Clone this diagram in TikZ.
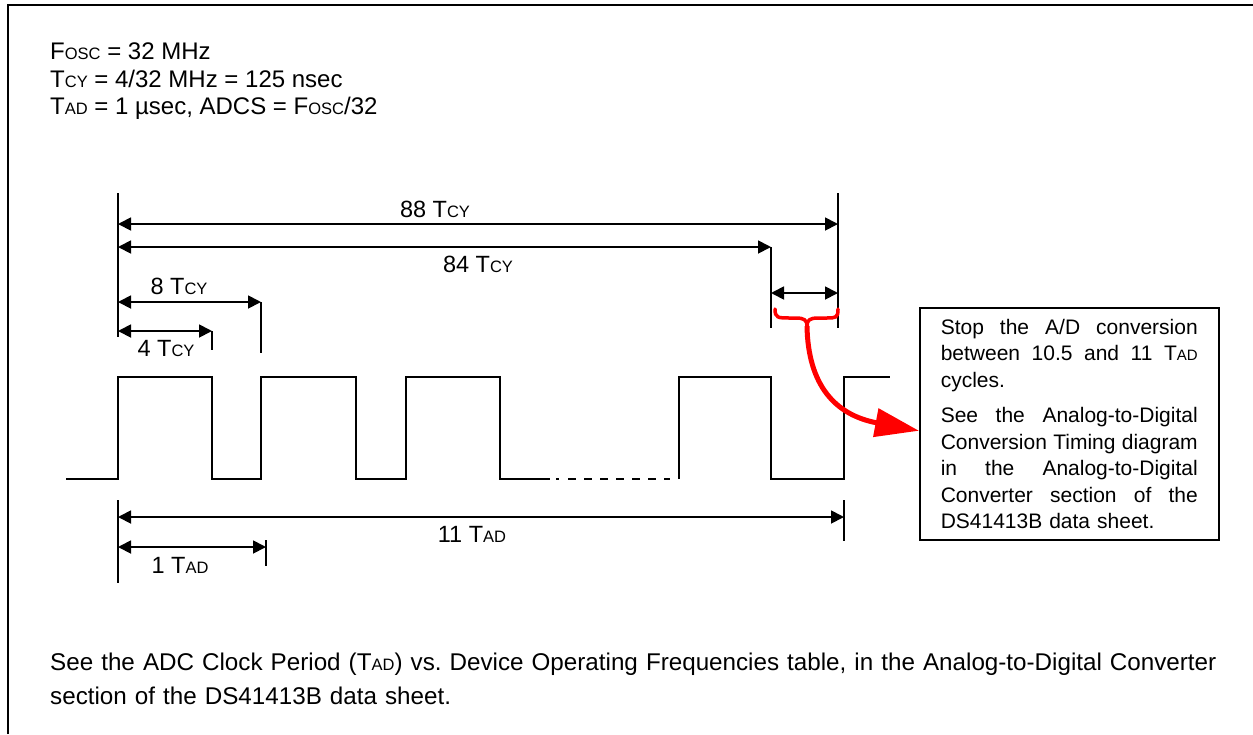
\documentclass[tikz,border=0pt]{standalone}
\usepackage{fontspec}
\setmainfont{Liberation Sans}
\usetikzlibrary{arrows.meta}
\frenchspacing
\newcommand\smc[1]{{\fontsize{16.5pt}{16.5pt}\selectfont #1}}
\newcommand\smb[1]{{\fontsize{15pt}{15pt}\selectfont #1}}
\newcommand\jl[1]{\makebox[257pt][l]{#1}}
\begin{document}
\begin{tikzpicture}[x=1pt,y=-1pt,
  dim/.style={line width=1.8pt,{Triangle[length=13pt,width=13pt]}-{Triangle[length=13pt,width=13pt]}},
  ext/.style={line width=1.8pt},
  wave/.style={line width=1.8pt},
  lbl/.style={font=\fontsize{23.5pt}{27pt}\selectfont,inner sep=0pt,anchor=base},
  txt/.style={font=\fontsize{24pt}{27.5pt}\selectfont,inner sep=0pt,anchor=base west},
  redline/.style={draw=red,line width=3.5pt,line cap=round}]
\useasboundingbox (0,0) rectangle (1253,734);
% frame
\draw[line width=2.5pt] (8,734) -- (8,5) -- (1253,5);
% header text
\node[txt] (h1) at (50,59) {F\smc{OSC} = 32 MHz};
\node[txt] (h2) at (50,87) {T\smc{CY} = 4/32 MHz = 125 nsec};
\node[txt] (h3) at (50,114) {T\smc{AD} = 1 µsec, ADCS = F\smc{OSC}/32};
% extension lines
\coordinate (eL1) at (118,193); \coordinate (eL2) at (118,337);
\coordinate (e88a) at (838,193); \coordinate (e88b) at (838,328);
\coordinate (e84a) at (771,247); \coordinate (e84b) at (771,328);
\coordinate (e8a) at (261,302); \coordinate (e8b) at (261,353);
\coordinate (e4a) at (212,331); \coordinate (e4b) at (212,350);
\draw[ext] (eL1) -- (eL2);
\draw[ext] (e88a) -- (e88b);
\draw[ext] (e84a) -- (e84b);
\draw[ext] (e8a) -- (e8b);
\draw[ext] (e4a) -- (e4b);
% dimension arrows
\coordinate (d88l) at (118,224); \coordinate (d88r) at (838,224);
\coordinate (d84l) at (118,247);
\coordinate (dsl) at (771,293); \coordinate (dsr) at (838,293);
\coordinate (d8l) at (118,302);
\coordinate (d4l) at (118,331);
\draw[dim] (d88l) -- (d88r);
\draw[dim] (d84l) -- (e84a);
\draw[dim] (dsl) -- (dsr);
\draw[dim] (d8l) -- (e8a);
\draw[dim] (d4l) -- (e4a);
\node[lbl] (l88) at (435,217) {88 T\smc{CY}};
\node[lbl] (l84) at (478,272) {84 T\smc{CY}};
\node[lbl] (l8) at (179,294) {8 T\smc{CY}};
\node[lbl] (l4) at (166,356) {4 T\smc{CY}};
% waveform
\draw[wave] (66,479) -- (118,479) -- (118,377) -- (212,377) -- (212,479) -- (261,479)
  -- (261,377) -- (356,377) -- (356,479) -- (406,479) -- (406,377) -- (500,377)
  -- (500,479) -- (550,479);
\draw[wave,dash pattern=on 3pt off 9pt on 8pt off 8pt on 8pt off 8pt on 8pt off 8pt on 8pt off 8pt on 8pt off 8pt on 8pt off 8pt on 8pt off 8pt] (556,479) -- (670,479);
\draw[wave] (679,479) -- (679,377) -- (771,377) -- (771,479) -- (844,479) -- (844,377) -- (890,377);
% bottom dimensions
\coordinate (b11l) at (118,517); \coordinate (b11r) at (844,517);
\coordinate (b1l) at (118,547); \coordinate (b1r) at (266,547);
\draw[ext] (118,500) -- (118,583);
\draw[ext] (844,500) -- (844,541);
\draw[ext] (266,540) -- (266,566);
\draw[dim] (b11l) -- (b11r);
\draw[dim] (b1l) -- (b1r);
\node[lbl] (l11) at (472,542) {11 T\smc{AD}};
\node[lbl] (l1) at (180,573) {1 T\smc{AD}};
% note box
\node[draw,line width=1.5pt,anchor=north west,text width=257pt,inner xsep=21pt,inner ysep=0pt,
  minimum height=232pt,align=left,font=\fontsize{21pt}{26.5pt}\selectfont] (box) at (919,307)
  {\jl{Stop\hfill the\hfill A/D\hfill conversion}\\
   \jl{between\hfill 10.5\hfill and\hfill 11\hfill T\smb{AD}}\\
   cycles.\\[9pt]
   \jl{See\hfill the\hfill Analog-to-Digital}\\
   \jl{Conversion\hfill Timing\hfill diagram}\\
   \jl{in\hfill the\hfill Analog-to-Digital}\\
   \jl{Converter\hfill section\hfill of\hfill the}\\
   DS41413B data sheet.};
% brace and red arrow
\coordinate (bt) at (807,326);
\draw[redline] (775,309) .. controls (775,318) and (778,318) .. (790,318) -- (796,318)
  .. controls (804,318) and (807,320) .. (bt)
  .. controls (807,320) and (810,318) .. (818,318) -- (826,318)
  .. controls (836,318) and (838,318) .. (838,309);
\draw[red,line width=5pt,-{Triangle[length=44pt,width=28pt]}] (bt) .. controls (808,385) and (835,415) .. ([yshift=-7pt]box.west);
% bottom note
\node[txt,align=left,text width=1183pt,font=\fontsize{24.2pt}{34pt}\selectfont] (note) at (50,670)
  {See the ADC Clock Period (T\smc{AD}) vs. Device Operating Frequencies table, in the Analog-to-Digital Converter\\
   section of the DS41413B data sheet.};
\end{tikzpicture}
\end{document}
